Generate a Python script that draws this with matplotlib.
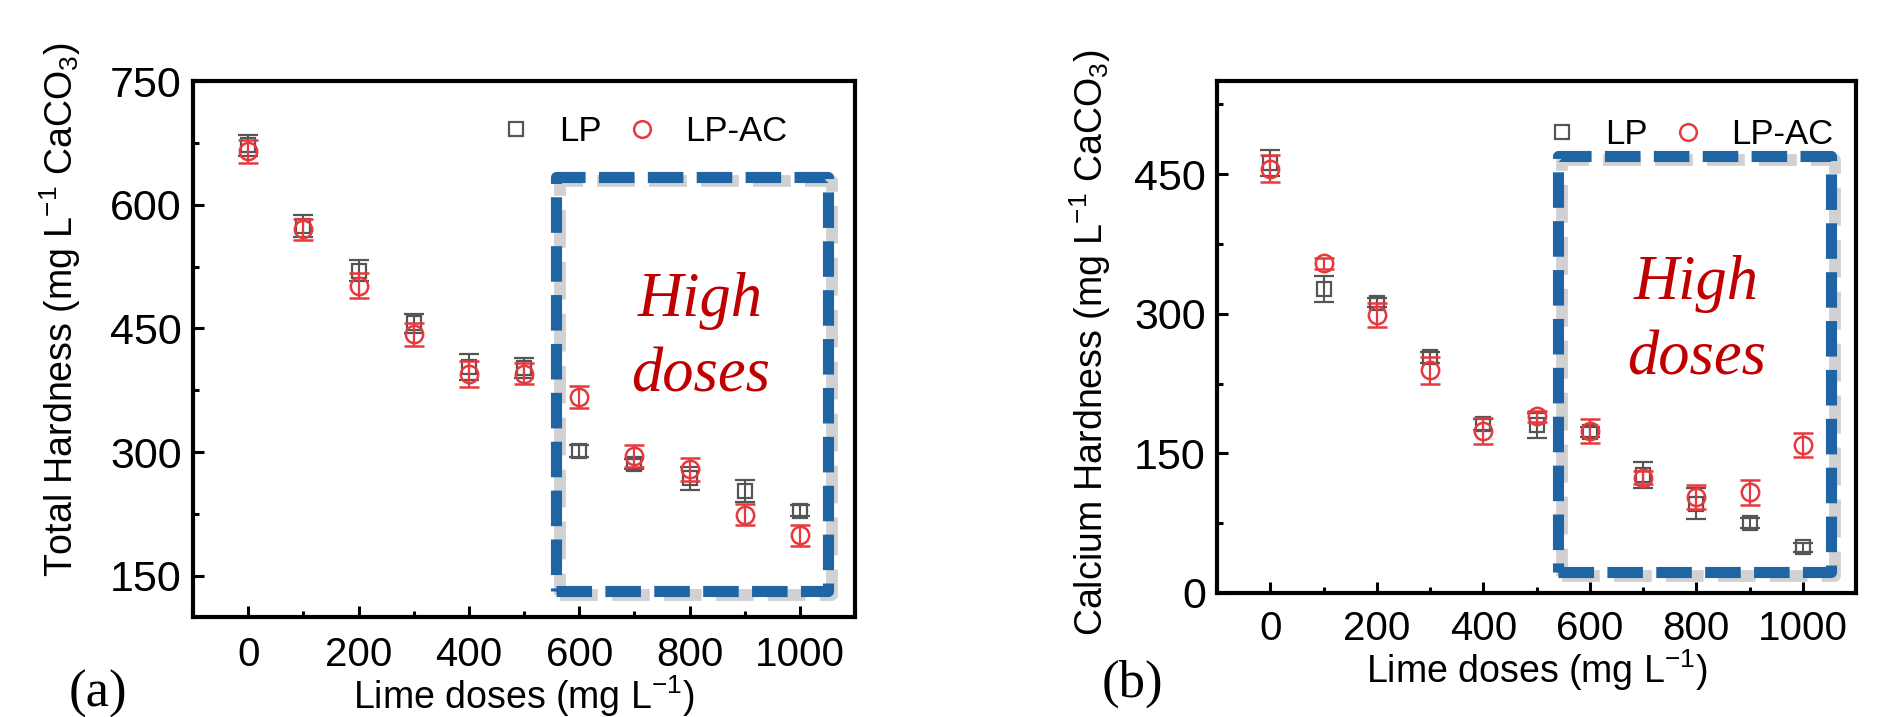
import matplotlib
matplotlib.use('Agg')
import matplotlib.pyplot as plt
from matplotlib.patches import Rectangle
from matplotlib.lines import Line2D
from matplotlib import transforms

plt.rcParams['font.family'] = ['Liberation Sans', 'DejaVu Sans']
plt.rcParams['mathtext.fontset'] = 'custom'
plt.rcParams['mathtext.rm'] = 'Liberation Sans'

doses = [0, 100, 200, 300, 400, 500, 600, 700, 800, 900, 1000]

# (a) total hardness, mg/L CaCO3
total_lp = [672, 574, 520, 456, 403, 402, 301, 285, 268, 253, 229]
total_lp_err = [13, 13, 13, 12, 16, 12, 7, 6, 14, 13, 7]
total_ac = [665, 570, 502, 443, 395, 395, 367, 295, 279, 224, 199]
total_ac_err = [14, 13, 15, 14, 16, 13, 13, 13, 14, 13, 13]

# (b) calcium hardness, mg/L CaCO3
ca_lp = [462, 327, 312, 253, 181, 180, 173, 127, 96, 75, 49]
ca_lp_err = [14, 14, 5, 6, 6, 13, 5, 14, 17, 5, 5]
ca_ac = [456, 354, 299, 239, 174, 190, 174, 124, 103, 108, 159]
ca_ac_err = [14, 6, 13, 14, 14, 6, 13, 7, 13, 13, 13]

GRAY = '#555555'
RED = '#e8383d'
BLUE = '#1f65a5'
DARKRED = '#c00000'

fig = plt.figure(figsize=(18.89, 7.17), dpi=100)
ax1 = fig.add_axes([0.1022, 0.1395, 0.3505, 0.7475])
ax2 = fig.add_axes([0.6443, 0.173, 0.3383, 0.714])


def draw_panel(ax, lp, lp_err, ac, ac_err, xpad):
    ax.errorbar(doses, lp, yerr=lp_err, fmt='s', ms=10, mfc='none', mec=GRAY,
                mew=1.6, ecolor=GRAY, elinewidth=1.5, capsize=7.5, capthick=1.5,
                zorder=3)
    ax.errorbar(doses, ac, yerr=ac_err, fmt='o', ms=12.5, mfc='none', mec=RED,
                mew=1.8, ecolor=RED, elinewidth=1.6, capsize=7.5, capthick=1.6,
                zorder=4)
    ax.set_xlim(-100, 1100)
    ax.set_xticks([0, 200, 400, 600, 800, 1000])
    ax.set_xticks([100, 300, 500, 700, 900], minor=True)
    for s in ax.spines.values():
        s.set_linewidth(3)
    ax.tick_params(which='both', direction='in', top=False, right=False, width=2.2)
    ax.tick_params(which='major', length=8)
    ax.tick_params(which='minor', length=4)
    ax.tick_params(axis='x', pad=xpad, labelsize=29)
    ax.tick_params(axis='y', pad=8, labelsize=31)
    handles = [Line2D([], [], ls='none', marker='s', ms=10, mfc='none', mec=GRAY, mew=1.6),
               Line2D([], [], ls='none', marker='o', ms=12, mfc='none', mec=RED, mew=1.8)]
    return handles


def draw_box(ax, x0, y0, x1, y1):
    dash = (0, (3.2, 1.2))
    shadow_tr = transforms.offset_copy(ax.transData, fig=fig, x=4, y=-4, units='dots')
    ax.add_patch(Rectangle((x0, y0), x1 - x0, y1 - y0, fill=False, ec='#8c8c8c',
                           lw=8.5, ls=dash, alpha=0.4, transform=shadow_tr,
                           joinstyle='round', zorder=1))
    ax.add_patch(Rectangle((x0, y0), x1 - x0, y1 - y0, fill=False, ec=BLUE,
                           lw=8, ls=dash, joinstyle='round', zorder=2))


def add_legend(ax, handles, x, y):
    ax.legend(handles, ['LP', 'LP-AC'], loc='center left', bbox_to_anchor=(x, y),
              ncol=2, frameon=False, fontsize=25, borderpad=0, borderaxespad=0,
              handlelength=1.0, handletextpad=0.72, columnspacing=0.69)


def add_note(ax, x, y_high, y_doses):
    for word, yy in (('High', y_high), ('doses', y_doses)):
        ax.text(x, yy, word, fontsize=45, family='Liberation Serif', style='italic',
                color=DARKRED, ha='center', va='baseline')


h = draw_panel(ax1, total_lp, total_lp_err, total_ac, total_ac_err, 14)
ax1.set_ylim(100, 750)
ax1.set_yticks([150, 300, 450, 600, 750])
ax1.set_yticks([225, 375, 525, 675], minor=True)
draw_box(ax1, 557, 132, 1050, 634)
add_note(ax1, 819, 465, 374)
add_legend(ax1, h, 0.462, 0.905)
ax1.set_xlabel('Lime doses (mg L$^{-1}$)', fontsize=27, va='center')
ax1.set_ylabel('Total Hardness (mg L$^{-1}$ CaCO$_3$)', fontsize=27, va='center')
ax1.xaxis.set_label_coords(0.5, -0.148)
ax1.yaxis.set_label_coords(-0.2, 0.574)

h = draw_panel(ax2, ca_lp, ca_lp_err, ca_ac, ca_ac_err, 12)
ax2.set_ylim(0, 550)
ax2.set_yticks([0, 150, 300, 450])
ax2.set_yticks([75, 225, 375, 525], minor=True)
draw_box(ax2, 541, 23, 1052, 469)
add_note(ax2, 800, 316, 235)
add_legend(ax2, h, 0.513, 0.895)
ax2.set_xlabel('Lime doses (mg L$^{-1}$)', fontsize=27, va='center')
ax2.set_ylabel('Calcium Hardness (mg L$^{-1}$ CaCO$_3$)', fontsize=27, va='center')
ax2.xaxis.set_label_coords(0.5, -0.151)
ax2.yaxis.set_label_coords(-0.199, 0.489)

fig.text(98 / 1889, 1 - 694 / 717, '(a)', fontsize=38, family='Liberation Serif',
         ha='center', va='center')
fig.text(1132 / 1889, 1 - 684 / 717, '(b)', fontsize=38, family='Liberation Serif',
         ha='center', va='center')

fig.savefig('out.png', dpi=100)
